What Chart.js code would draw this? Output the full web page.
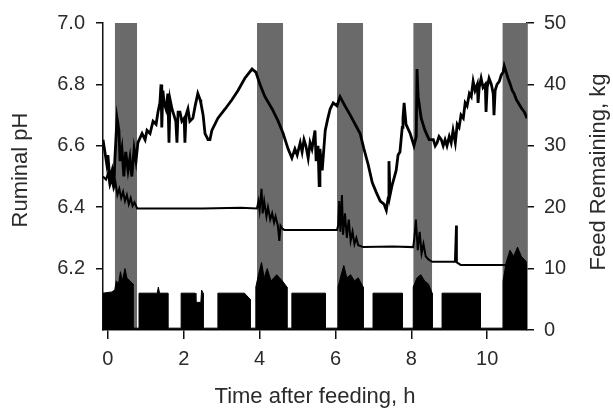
<!DOCTYPE html>
<html>
<head>
<meta charset="utf-8">
<script src="https://cdn.jsdelivr.net/npm/chart.js@4.4.1/dist/chart.umd.min.js"></script>
<style>
  html, body { margin: 0; padding: 0; background: #fff; }
  #wrap { width: 613px; height: 410px; }
</style>
</head>
<body>
<div id="wrap"><canvas id="rumenChart" width="613" height="410"></canvas></div>
<script>
// --- DATA ---
const xTicks = [0, 2, 4, 6, 8, 10];
const phTicks = [6.2, 6.4, 6.6, 6.8, 7.0];
const feedTicks = [0, 10, 20, 30, 40, 50];

// feeding periods (grey bands), hours after feeding
const feedingStart = [0.18, 3.93, 6.04, 8.05, 10.40];
const feedingEnd = [0.77, 4.62, 6.73, 8.55, 11.05];

// ruminal pH trace
const phHours = [-0.13,-0.08,-0.03,0.00,0.05,0.11,0.16,0.18,0.24,0.29,0.32,0.37,0.42,0.47,0.53,0.58,0.63,0.69,0.74,0.79,
  0.90,0.98,1.03,1.11,1.19,1.27,1.32,1.37,1.40,1.42,1.45,1.48,1.53,1.58,1.61,1.64,1.69,1.74,1.79,1.82,
  1.85,1.90,1.95,2.01,2.03,2.06,2.11,2.16,2.24,2.30,2.37,2.43,2.45,2.51,2.56,2.64,2.69,2.74,2.90,3.09,
  3.27,3.43,3.61,3.80,3.90,4.01,4.14,4.33,4.49,4.62,4.75,4.85,4.93,4.99,5.07,5.12,5.17,5.22,5.28,5.33,
  5.38,5.46,5.49,5.54,5.57,5.59,5.65,5.73,5.80,5.86,5.94,6.04,6.12,6.25,6.39,6.52,6.65,6.75,6.86,6.97,
  7.07,7.18,7.28,7.34,7.39,7.41,7.44,7.49,7.60,7.65,7.70,7.76,7.78,7.81,7.86,7.97,8.07,8.13,8.15,8.18,
  8.26,8.36,8.47,8.58,8.63,8.68,8.73,8.79,8.84,8.89,8.94,9.00,9.05,9.10,9.16,9.21,9.26,9.31,9.37,9.42,
  9.47,9.53,9.58,9.63,9.68,9.74,9.76,9.79,9.84,9.89,9.95,9.97,10.00,10.05,10.11,10.16,10.18,10.21,10.26,10.32,
  10.37,10.42,10.45,10.50,10.55,10.61,10.66,10.71,10.77,10.82,10.87,10.92,10.98,11.05];
const phValues = [6.62,6.58,6.54,6.57,6.49,6.52,6.47,6.55,6.69,6.65,6.55,6.59,6.50,6.58,6.52,6.56,6.50,6.59,6.55,6.61,
  6.64,6.62,6.65,6.64,6.68,6.67,6.71,6.74,6.80,6.66,6.78,6.74,6.72,6.77,6.61,6.75,6.72,6.70,6.68,6.61,
  6.71,6.71,6.68,6.69,6.61,6.70,6.72,6.68,6.69,6.73,6.77,6.75,6.74,6.70,6.64,6.62,6.62,6.65,6.69,6.72,
  6.75,6.78,6.82,6.85,6.84,6.80,6.76,6.72,6.68,6.64,6.59,6.56,6.59,6.57,6.61,6.58,6.62,6.60,6.56,6.61,
  6.59,6.65,6.55,6.60,6.47,6.59,6.52,6.65,6.69,6.72,6.74,6.73,6.76,6.73,6.70,6.67,6.64,6.59,6.54,6.48,
  6.45,6.42,6.41,6.39,6.43,6.55,6.44,6.47,6.52,6.57,6.58,6.66,6.69,6.74,6.67,6.64,6.60,6.63,6.85,6.76,
  6.69,6.65,6.62,6.62,6.60,6.61,6.63,6.62,6.60,6.62,6.60,6.63,6.61,6.65,6.61,6.67,6.66,6.70,6.69,6.74,
  6.73,6.77,6.76,6.81,6.78,6.80,6.74,6.79,6.82,6.79,6.80,6.71,6.79,6.82,6.80,6.77,6.70,6.78,6.80,6.81,
  6.83,6.84,6.86,6.84,6.82,6.80,6.78,6.77,6.75,6.74,6.73,6.72,6.71,6.69];

// feed remaining in the bunk, kg
const feedHours = [-0.13,-0.05,0.00,0.05,0.10,0.15,0.20,0.25,0.30,0.35,0.40,0.45,0.50,0.55,0.60,0.65,0.70,0.77,1.50,2.50,
  3.50,3.93,3.97,4.00,4.05,4.08,4.12,4.18,4.22,4.28,4.33,4.38,4.42,4.48,4.52,4.55,4.60,4.65,6.04,6.07,
  6.10,6.13,6.17,6.20,6.25,6.30,6.35,6.40,6.45,6.50,6.55,6.60,6.73,7.50,8.05,8.08,8.12,8.17,8.22,8.27,
  8.32,8.38,8.45,8.55,9.15,9.18,9.20,9.30,10.40,11.05];
const feedKg = [25,24.5,25.5,23.5,24.5,23,24,22,23,21.5,22.5,21,22,20.5,21.5,20.2,20.8,19.8,19.8,19.8,
  19.9,19.8,21,19.5,23,19,21,18.5,20,18,19,17.5,18.5,17,14.5,17,16.5,16.3,16.3,17,
  21,16,22,15.5,19,15,18,14.5,16,14,15,13.8,13.5,13.6,13.5,15,18,13,16,12.5,
  14,12,11.5,11.1,11.1,17,11,10.6,10.6,10.3];

// eating activity blocks along the bottom (right axis units)
const intakeHours = [-0.13,-0.13,0.10,0.18,0.22,0.28,0.33,0.38,0.45,0.50,0.58,0.66,0.66,
  0.82,0.82,1.30,1.33,1.36,1.58,1.58,
  1.93,1.93,2.30,2.32,2.45,2.47,2.51,2.51,
  2.90,2.90,3.60,3.75,3.75,
  3.90,3.90,3.97,4.05,4.12,4.20,4.30,4.45,4.60,4.72,4.72,
  4.85,4.85,5.73,5.73,
  6.07,6.07,6.15,6.22,6.30,6.40,6.50,6.60,6.73,6.73,
  6.99,6.99,7.76,7.76,
  8.05,8.05,8.15,8.25,8.35,8.45,8.55,8.55,
  8.81,8.81,9.82,9.82,
  10.42,10.42,10.50,10.60,10.70,10.80,10.90,11.05];
const intakeKg = [0,6,6.2,6.5,8,7.5,9.5,8,10,8.5,8,7.5,0.3,
  0.3,6,6,7,6,6,0.3,
  0.3,6,6,4.5,4.5,6.5,6,0.3,
  0.3,6,6,5,0.3,
  0.3,7,9,11,8.5,10,8,9,8,7,0.3,
  0.3,6,6,0.3,
  0.3,7,9,10.5,8.5,9,8,8.5,7,0.3,
  0.3,6,6,0.3,
  0.3,7,8.5,9,8,7.5,6,0.3,
  0.3,6,6,0.3,
  0.3,8,11,13,12,13.5,12,11];

// --- helpers ---
function pairs(xs, ys) {
  return xs.map((x, i) => ({ x: x, y: ys[i] }));
}

const FONT = '"Liberation Sans", Arial, Helvetica, sans-serif';
const TEXT = '#2b2b2b';

let datasets = [];

// grey feeding bands
feedingStart.forEach((s, i) => {
  datasets.push({
    data: [{ x: s, y: 7.0 }, { x: feedingEnd[i], y: 7.0 }],
    yAxisID: 'y',
    borderWidth: 0,
    pointRadius: 0,
    fill: 'start',
    backgroundColor: '#6a6a6a',
    order: 4
  });
});

datasets.push({
  data: pairs(intakeHours, intakeKg),
  yAxisID: 'y2',
  borderColor: '#000',
  borderWidth: 1,
  pointRadius: 0,
  fill: 'start',
  backgroundColor: '#000',
  order: 3
});

datasets.push({
  data: pairs(feedHours, feedKg),
  yAxisID: 'y2',
  borderColor: '#000',
  borderWidth: 2,
  pointRadius: 0,
  fill: false,
  order: 2
});

datasets.push({
  data: pairs(phHours, phValues),
  yAxisID: 'y',
  borderColor: '#000',
  borderWidth: 2.8,
  pointRadius: 0,
  fill: false,
  order: 1
});

// axis titles drawn by hand so the right one reads bottom-to-top like the left one
const axisTitles = {
  id: 'axisTitles',
  afterDraw(chart) {
    const ctx = chart.ctx;
    const a = chart.chartArea;
    ctx.save();
    ctx.fillStyle = TEXT;
    ctx.font = '22px ' + FONT;
    ctx.textAlign = 'center';
    ctx.textBaseline = 'middle';
    ctx.fillText('Time after feeding, h', (a.left + a.right) / 2, 397);

    ctx.translate(21, 170);
    ctx.rotate(-Math.PI / 2);
    ctx.fillText('Ruminal pH', 0, 0);
    ctx.restore();

    ctx.save();
    ctx.fillStyle = TEXT;
    ctx.font = '22px ' + FONT;
    ctx.textAlign = 'center';
    ctx.textBaseline = 'middle';
    ctx.translate(599, 172);
    ctx.rotate(-Math.PI / 2);
    ctx.fillText('Feed Remaining, kg', 0, 0);
    ctx.restore();
  }
};

function axisStyle(tickLen) {
  return {
    grid: { display: true, drawOnChartArea: false, drawTicks: true, tickLength: tickLen, color: '#111', lineWidth: 1.5 },
    border: { display: true, color: '#111', width: 1.5 }
  };
}

new Chart(document.getElementById('rumenChart').getContext('2d'), {
  type: 'line',
  data: { datasets: datasets },
  options: {
    responsive: false,
    devicePixelRatio: 1,
    animation: false,
    layout: { padding: { top: 20, left: 0, right: 0, bottom: 0 } },
    plugins: { legend: { display: false }, tooltip: { enabled: false } },
    elements: { line: { tension: 0 } },
    scales: {
      x: Object.assign({
        type: 'linear',
        min: -0.13,
        max: 11.05,
        afterFit: s => { s.height = 80; },
        afterBuildTicks: s => { s.ticks = xTicks.map(v => ({ value: v })); },
        ticks: { color: TEXT, font: { size: 20, family: FONT }, padding: 8, maxRotation: 0 }
      }, axisStyle(9)),
      y: Object.assign({
        type: 'linear',
        position: 'left',
        min: 6.0,
        max: 7.0,
        afterFit: s => { s.width = 103; },
        afterBuildTicks: s => { s.ticks = phTicks.map(v => ({ value: v })); },
        ticks: { color: TEXT, font: { size: 20, family: FONT }, padding: 11, callback: v => v.toFixed(1) }
      }, axisStyle(7)),
      y2: Object.assign({
        type: 'linear',
        position: 'right',
        min: 0,
        max: 50,
        afterFit: s => { s.width = 86; },
        afterBuildTicks: s => { s.ticks = feedTicks.map(v => ({ value: v })); },
        ticks: { color: TEXT, font: { size: 20, family: FONT }, padding: 10 }
      }, axisStyle(7))
    }
  },
  plugins: [axisTitles]
});
</script>
</body>
</html>
